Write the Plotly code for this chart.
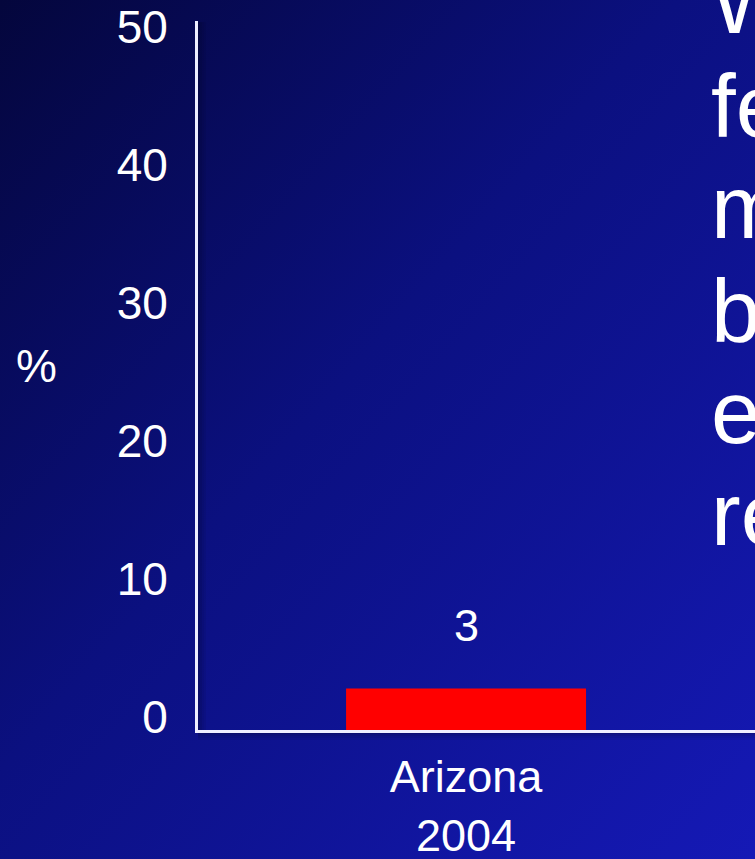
import base64
import plotly.graph_objects as go

# Chart data
categories = ["Arizona<br>2004"]
values = [3]
value_labels = ["3"]
y_ticks = [0, 10, 20, 30, 40, 50]
y_title = "%"

# Fragments of the large slide text running off the right edge
side_text = ["W", "fe", "m", "b", "e", "re"]

W, H = 755, 859
ML, MR, MT, MB = 198, 0, 21, 129
PW, PH = W - ML - MR, H - MT - MB

FONT = "Liberation Sans, Arial, sans-serif"
WHITE = "#ffffff"

# Diagonal navy-to-blue slide background as an SVG gradient
bg_svg = f"""<svg xmlns='http://www.w3.org/2000/svg' width='{W}' height='{H}'>
<defs><linearGradient id='g' x1='0' y1='0' x2='1' y2='1'>
<stop offset='0' stop-color='#04063c'/>
<stop offset='0.45' stop-color='#0b1080'/>
<stop offset='1' stop-color='#1519b6'/>
</linearGradient></defs>
<rect width='{W}' height='{H}' fill='url(#g)'/></svg>"""
bg_uri = "data:image/svg+xml;base64," + base64.b64encode(bg_svg.encode()).decode()


def px_x(p):
    return (p - ML) / PW


def px_y(p):
    return (H - MB - p) / PH


fig = go.Figure()
fig.add_trace(go.Bar(
    x=[0], y=values, width=[1.0],
    marker=dict(color="#ff0000", line=dict(width=0)),
    hoverinfo="skip",
))

annotations = []
# value label above the bar
annotations.append(dict(
    x=0, y=values[0], xref="x", yref="y", text=value_labels[0],
    showarrow=False, yanchor="bottom", yshift=36,
    font=dict(family=FONT, size=45, color=WHITE),
))
# axis title
annotations.append(dict(
    x=px_x(36), y=px_y(366), xref="paper", yref="paper", text=y_title,
    showarrow=False, xanchor="center", yanchor="middle",
    font=dict(family=FONT, size=46, color=WHITE),
))
# large text lines on the right
baselines = [33, 137, 238, 342, 443, 545]
for txt, base in zip(side_text, baselines):
    annotations.append(dict(
        x=px_x(709), y=px_y(base - 31), xref="paper", yref="paper", text=txt,
        showarrow=False, xanchor="left", yanchor="middle",
        font=dict(family=FONT, size=89, color=WHITE),
    ))

shadow = "rgba(0,0,25,{})"
shapes = []
# soft shadows under the x axis and to the right of the y axis
for i, a in enumerate([0.30, 0.20, 0.12, 0.06]):
    shapes.append(dict(type="rect", xref="paper", yref="paper",
                       x0=px_x(198), x1=1, y0=px_y(732 + 2 * i), y1=px_y(734 + 2 * i),
                       fillcolor=shadow.format(a), line=dict(width=0), layer="below"))
    shapes.append(dict(type="rect", xref="paper", yref="paper",
                       x0=px_x(198 + 2 * i), x1=px_x(200 + 2 * i), y0=px_y(730), y1=px_y(22),
                       fillcolor=shadow.format(a), line=dict(width=0), layer="below"))

fig.update_layout(
    width=W, height=H,
    margin=dict(l=ML, r=MR, t=MT, b=MB, pad=0, autoexpand=False),
    paper_bgcolor="#0b1080",
    plot_bgcolor="rgba(0,0,0,0)",
    showlegend=False,
    images=[dict(source=bg_uri, xref="paper", yref="paper",
                 x=px_x(0), y=px_y(0), sizex=W / PW, sizey=H / PH,
                 xanchor="left", yanchor="top", sizing="stretch", layer="below")],
    annotations=annotations,
    shapes=shapes,
    xaxis=dict(
        range=[-1.117, 1.204], tickvals=[0], ticktext=categories,
        showline=True, linecolor="#eeeeff", linewidth=3,
        showgrid=False, zeroline=False, ticks="",
        ticklabelstandoff=5, automargin=False,
        tickfont=dict(family=FONT, size=45, color=WHITE),
        fixedrange=True,
    ),
    yaxis=dict(
        range=[0, 51.4], tickvals=y_ticks,
        showline=True, linecolor="#eeeeff", linewidth=3,
        showgrid=False, zeroline=False, ticks="",
        ticklabelstandoff=18, ticklabelshift=-13, automargin=False,
        tickfont=dict(family=FONT, size=46, color=WHITE),
        fixedrange=True,
    ),
)

fig.write_html("out.html", config={"displayModeBar": False})
